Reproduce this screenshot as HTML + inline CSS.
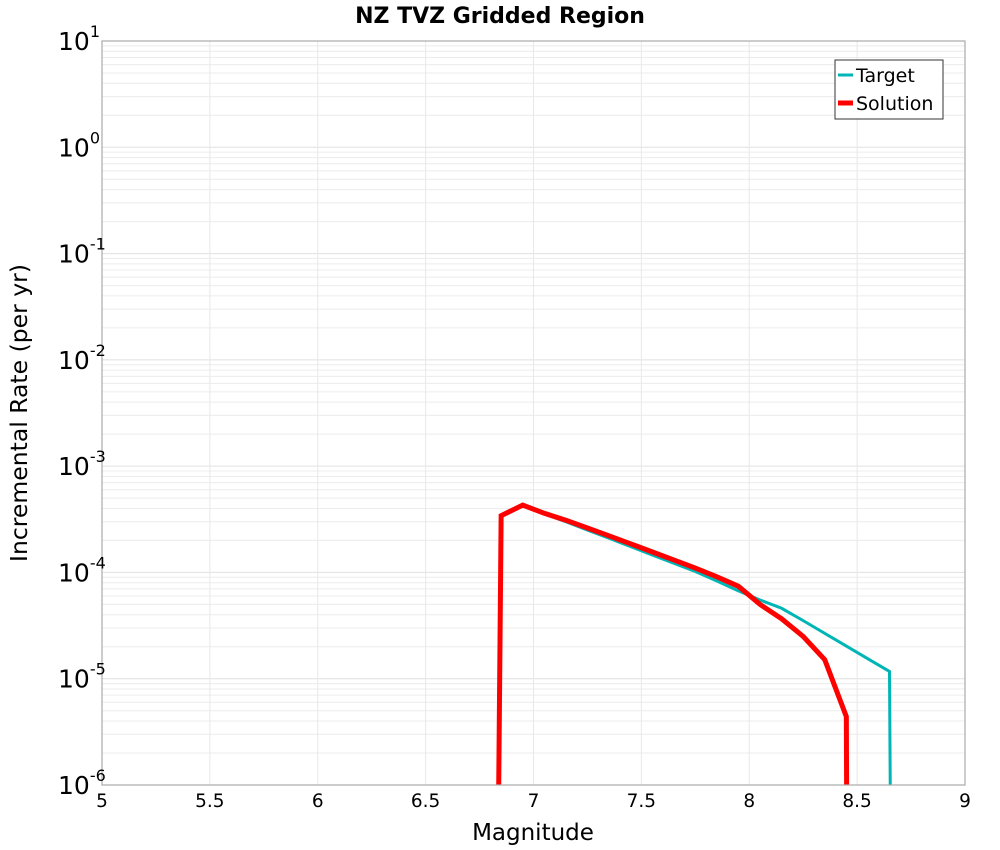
<!DOCTYPE html>
<html><head><meta charset="utf-8"><style>
html,body{margin:0;padding:0;background:#fff;overflow:hidden;width:1000px;height:850px}
svg{display:block}
</style></head><body>
<svg id="chart" width="1000" height="850" xmlns="http://www.w3.org/2000/svg" font-family="DejaVu Sans, Liberation Sans, sans-serif">
<rect width="1000" height="850" fill="#fff"/>
<g id="grid"></g>
<g id="series"></g>
<rect x="102" y="41" width="863" height="744" fill="none" stroke="#aaa" stroke-width="1.2"/>
<g id="axes"></g>
<text x="500" y="23" text-anchor="middle" font-size="22" font-weight="bold">NZ TVZ Gridded Region</text>
<text x="533" y="840" text-anchor="middle" font-size="23">Magnitude</text>
<text transform="translate(27,413) rotate(-90)" text-anchor="middle" font-size="23.5">Incremental Rate (per yr)</text>
<g>
<rect x="835" y="60" width="108" height="59" fill="#fff" stroke="#333" stroke-width="1"/>
<line x1="838" y1="75" x2="853" y2="75" stroke="#00b5b5" stroke-width="3"/>
<text x="856" y="82" font-size="19">Target</text>
<line x1="838" y1="103" x2="853" y2="103" stroke="#ff0000" stroke-width="5"/>
<text x="856" y="110" font-size="19">Solution</text>
</g>
</svg>
<script>
const xTicks=[5,5.5,6,6.5,7,7.5,8,8.5,9];
const xTickLabels=["5","5.5","6","6.5","7","7.5","8","8.5","9"];
const yDecades=[1,0,-1,-2,-3,-4,-5,-6];
const targetMag=[6.95,7.05,7.15,7.25,7.35,7.45,7.55,7.65,7.75,7.85,7.95,8.05,8.15,8.25,8.35,8.45,8.55,8.65,8.66];
const targetRate=[4.3e-4,3.55e-4,3.0e-4,2.5e-4,2.1e-4,1.75e-4,1.46e-4,1.22e-4,1.02e-4,8.3e-5,6.7e-5,5.5e-5,4.6e-5,3.52e-5,2.67e-5,2.03e-5,1.54e-5,1.17e-5,1e-8];
const solutionMag=[6.83,6.85,6.95,7.05,7.15,7.25,7.35,7.45,7.55,7.65,7.75,7.85,7.95,8.05,8.15,8.25,8.35,8.45,8.455];
const solutionRate=[1e-8,3.42e-4,4.3e-4,3.6e-4,3.1e-4,2.62e-4,2.21e-4,1.86e-4,1.56e-4,1.31e-4,1.1e-4,9.1e-5,7.4e-5,5.0e-5,3.66e-5,2.5e-5,1.51e-5,4.4e-6,1e-8];
const X0=102,X1=965,Y0=41,Y1=785;
const xs=m=>X0+(m-5)/4*(X1-X0);
const ys=v=>Y0+(1-Math.log10(v))/7*(Y1-Y0);
const NS="http://www.w3.org/2000/svg";
function mk(tag,attrs,parent){const e=document.createElementNS(NS,tag);for(const k in attrs)e.setAttribute(k,attrs[k]);parent.appendChild(e);return e;}
const svg=document.getElementById('chart');
const grid=document.getElementById('grid'),axes=document.getElementById('axes'),ser=document.getElementById('series');
for(let d=-6;d<1;d++){for(let k=1;k<10;k++){const y=ys(k*Math.pow(10,d));
const l=mk('line',{x1:X0,x2:X1,y1:y,y2:y,stroke:k==1?'#e0e0e0':'#ececec','stroke-width':1},grid);

}}
xTicks.forEach((t,i)=>{const x=xs(t);
const l=mk('line',{x1:x,x2:x,y1:Y0,y2:Y1,stroke:'#e8e8e8','stroke-width':1},grid);


const tx=mk('text',{x:x,y:807,'text-anchor':'middle','font-size':18.5},axes);tx.textContent=xTickLabels[i];

});
yDecades.forEach(d=>{const y=ys(Math.pow(10,d));
const t=mk('text',{x:58,y:y+9,'text-anchor':'start','font-size':25},axes);


const a=document.createElementNS(NS,'tspan');a.textContent='10';t.appendChild(a);
const b=document.createElementNS(NS,'tspan');b.setAttribute('dy','-13');b.setAttribute('font-size','16');b.textContent=String(d);t.appendChild(b);});
const cp=mk('clipPath',{id:'clip'},svg);
mk('rect',{x:X0,y:Y0,width:X1-X0,height:Y1-Y0},cp);
function line(ms,vs,color,w,name){const p=mk('polyline',{points:ms.map((m,i)=>xs(m)+','+ys(vs[i])).join(' '),fill:'none',stroke:color,'stroke-width':w,'stroke-linejoin':'miter','clip-path':'url(#clip)'},ser);

}
line(targetMag,targetRate,'#00b5b5',3,'target-line');
line(solutionMag,solutionRate,'#ff0000',5,'solution-line');
</script>
</body></html>
